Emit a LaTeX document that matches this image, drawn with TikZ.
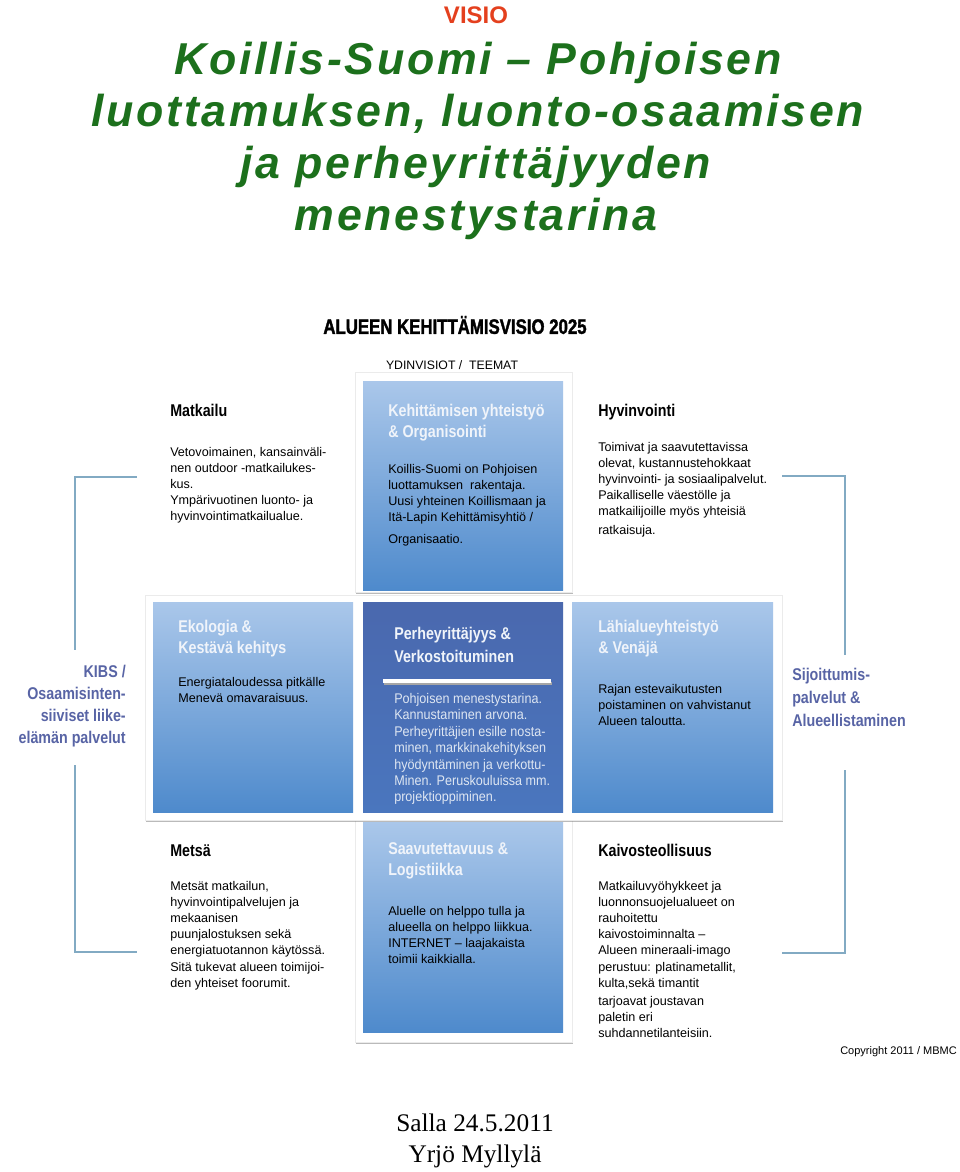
\documentclass[tikz,border=0pt]{standalone}
\usepackage{fontspec}
\setmainfont{Liberation Sans}
\usetikzlibrary{shadows}
\newfontfamily\titlef[LetterSpace=6]{Liberation Sans Bold Italic}
\newfontfamily\headf[FakeStretch=0.84]{Liberation Sans Bold}
\newfontfamily\capf[FakeStretch=0.8,FakeBold=1.6]{Liberation Sans Bold}
\newfontfamily\bodyf{Liberation Sans}
\newfontfamily\lightf[FakeStretch=0.9]{Liberation Sans}
\newfontfamily\serf{Liberation Serif}
\definecolor{titlegreen}{RGB}{28,112,28}
\definecolor{visiored}{RGB}{228,64,30}
\definecolor{boxtop}{RGB}{170,199,234}
\definecolor{boxbot}{RGB}{78,138,204}
\definecolor{midtop}{RGB}{74,104,174}
\definecolor{midbot}{RGB}{74,118,190}
\definecolor{sidecol}{RGB}{88,100,165}
\definecolor{brackcol}{RGB}{130,170,195}
\definecolor{lighttxt}{RGB}{222,230,242}
\definecolor{headwhite}{RGB}{240,244,250}
\begin{document}
\begin{tikzpicture}[x=0.75pt,y=-0.75pt,
  ttl/.style={font=\titlef\fontsize{33.5}{39}\selectfont, text=titlegreen, inner sep=0, anchor=base},
  panel/.style={draw=black!8, fill=white, drop shadow={shadow xshift=0.6pt, shadow yshift=-1.2pt, opacity=0.45, fill=black!60}},
  bluebox/.style={top color=boxtop, bottom color=boxbot},
  hdw/.style={font=\headf\fontsize{12.75}{15.75}\selectfont, text=headwhite, inner sep=0, anchor=north west, align=left},
  hdb/.style={font=\headf\fontsize{12.75}{15.75}\selectfont, text=black, inner sep=0, anchor=north west, align=left},
  bd/.style={font=\bodyf\fontsize{9.45}{12.1}\selectfont, text=black, inner sep=0, anchor=north west, align=left},
  lightbd/.style={font=\lightf\fontsize{10.5}{12.3}\selectfont, text=lighttxt, inner sep=0, anchor=north west, align=left},
  side/.style={font=\headf\fontsize{12.75}{16.6}\selectfont, text=sidecol, inner sep=0},
  bracket/.style={draw=brackcol, line width=1.1pt}
]
\useasboundingbox (0,0) rectangle (960,1172);

% heading texts
\node[font=\bodyf\bfseries\fontsize{18}{20}\selectfont, text=visiored, inner sep=0] (visio) at (476,15) {VISIO};
\node[ttl] (t1) at (478,74) {Koillis-Suomi – Pohjoisen};
\node[ttl] (t2) at (478,126) {luottamuksen, luonto-osaamisen};
\node[ttl] (t3) at (476,178) {ja perheyrittäjyyden};
\node[ttl] (t4) at (476,230) {menestystarina};

\node[font=\capf\fontsize{15.75}{18}\selectfont, inner sep=0] (alue) at (455,325) {ALUEEN KEHITTÄMISVISIO 2025};
\node[font=\bodyf\fontsize{9.2}{11}\selectfont, inner sep=0] (ydin) at (452,365) {YDINVISIOT /\ \ TEEMAT};

% panels
\path[panel] (355,372) rectangle (572,592);
\path[panel] (355,818) rectangle (572,1042);
\path[panel] (145,595) rectangle (782,820);

% blue boxes
\path[bluebox] (363,381) rectangle (563,590);
\path[bluebox] (153,602) rectangle (353,812);
\path[top color=midtop, bottom color=midbot] (363,602) rectangle (563,812);
\path[bluebox] (572,602) rectangle (773,812);
\path[bluebox] (363,822) rectangle (563,1032);

% white rule in centre box
\draw[black!35, line width=1.6pt] (384,683.5) -- (552,683.5);
\draw[white, line width=2.6pt] (383,681) -- (551,681);

% top row
\node[hdb] (matk) at (170,404) {Matkailu};
\node[bd] (matkb) at (170,447) {Vetovoimainen, kansainväli-\\nen outdoor -matkailukes-\\kus.\\Ympärivuotinen luonto- ja\\hyvinvointimatkailualue.};

\node[hdw] (kehi) at (388,404) {Kehittämisen yhteistyö\\\& Organisointi};
\node[bd] (kehib) at (388,464) {Koillis-Suomi on Pohjoisen\\luottamuksen\ \ rakentaja.\\Uusi yhteinen Koillismaan ja\\Itä-Lapin Kehittämisyhtiö /\\[4.5pt]Organisaatio.};

\node[hdb] (hyvi) at (598,404) {Hyvinvointi};
\node[bd] (hyvib) at (598,442) {Toimivat ja saavutettavissa\\olevat, kustannustehokkaat\\hyvinvointi- ja sosiaalipalvelut.\\Paikalliselle väestölle ja\\matkailijoille myös yhteisiä\\[1.5pt]ratkaisuja.};

% middle row
\node[hdw] (ekol) at (178,620) {Ekologia \&\\Kestävä kehitys};
\node[bd] (ekolb) at (178,677) {Energiataloudessa pitkälle\\Menevä omavaraisuus.};

\node[hdw, font=\headf\fontsize{12.75}{17.25}\selectfont] (perh) at (394,627) {Perheyrittäjyys \&\\Verkostoituminen};
\node[lightbd] (perhb) at (394,693) {Pohjoisen menestystarina.\\Kannustaminen arvona.\\Perheyrittäjien esille nosta-\\minen, markkinakehityksen\\hyödyntäminen ja verkottu-\\Minen. Peruskouluissa mm.\\projektioppiminen.};

\node[hdw] (lahi) at (598,620) {Lähialueyhteistyö\\\& Venäjä};
\node[bd] (lahib) at (598,684) {Rajan estevaikutusten\\poistaminen on vahvistanut\\Alueen taloutta.};

% bottom row
\node[hdb] (mets) at (170,844) {Metsä};
\node[bd] (metsb) at (170,881) {Metsät matkailun,\\hyvinvointipalvelujen ja\\mekaanisen\\puunjalostuksen sekä\\energiatuotannon käytössä.\\Sitä tukevat alueen toimijoi-\\den yhteiset foorumit.};

\node[hdw] (saav) at (388,842) {Saavutettavuus \&\\Logistiikka};
\node[bd] (saavb) at (388,906) {Aluelle on helppo tulla ja\\alueella on helppo liikkua.\\INTERNET – laajakaista\\toimii kaikkialla.};

\node[hdb] (kaiv) at (598,844) {Kaivosteollisuus};
\node[bd] (kaivb) at (598,881) {Matkailuvyöhykkeet ja\\luonnonsuojelualueet on\\rauhoitettu\\kaivostoiminnalta –\\Alueen mineraali-imago\\perustuu: platinametallit,\\kulta,sekä timantit\\[1.5pt]tarjoavat joustavan\\paletin eri\\suhdannetilanteisiin.};

% side labels
\node[side, anchor=north east, align=right] (kibs) at (126,665) {KIBS /\\Osaamisinten-\\siiviset liike-\\elämän palvelut};
\node[side, anchor=north west, align=left, font=\headf\fontsize{12.75}{17.25}\selectfont] (sijo) at (792,668) {Sijoittumis-\\palvelut \&\\Alueellistaminen};

% brackets
\coordinate (la) at (137,477);
\coordinate (lb) at (75,477);
\coordinate (lc) at (75,650);
\coordinate (ld) at (75,765);
\coordinate (le) at (75,952);
\coordinate (lf) at (137,952);
\draw[bracket] (la) -- (lb) -- (lc);
\draw[bracket] (ld) -- (le) -- (lf);
\coordinate (ra) at (782,476);
\coordinate (rb) at (845,476);
\coordinate (rc) at (845,655);
\coordinate (rd) at (845,770);
\coordinate (re) at (845,953);
\coordinate (rf) at (782,953);
\draw[bracket] (ra) -- (rb) -- (rc);
\draw[bracket] (rd) -- (re) -- (rf);

% footer
\node[font=\bodyf\fontsize{8.25}{10}\selectfont, inner sep=0, anchor=west] (copy) at (840,1052) {Copyright 2011 / MBMC};
\node[font=\serf\fontsize{19}{23.25}\selectfont, inner sep=0, align=center] (salla) at (475,1141) {Salla 24.5.2011\\Yrjö Myllylä};
\end{tikzpicture}
\end{document}
